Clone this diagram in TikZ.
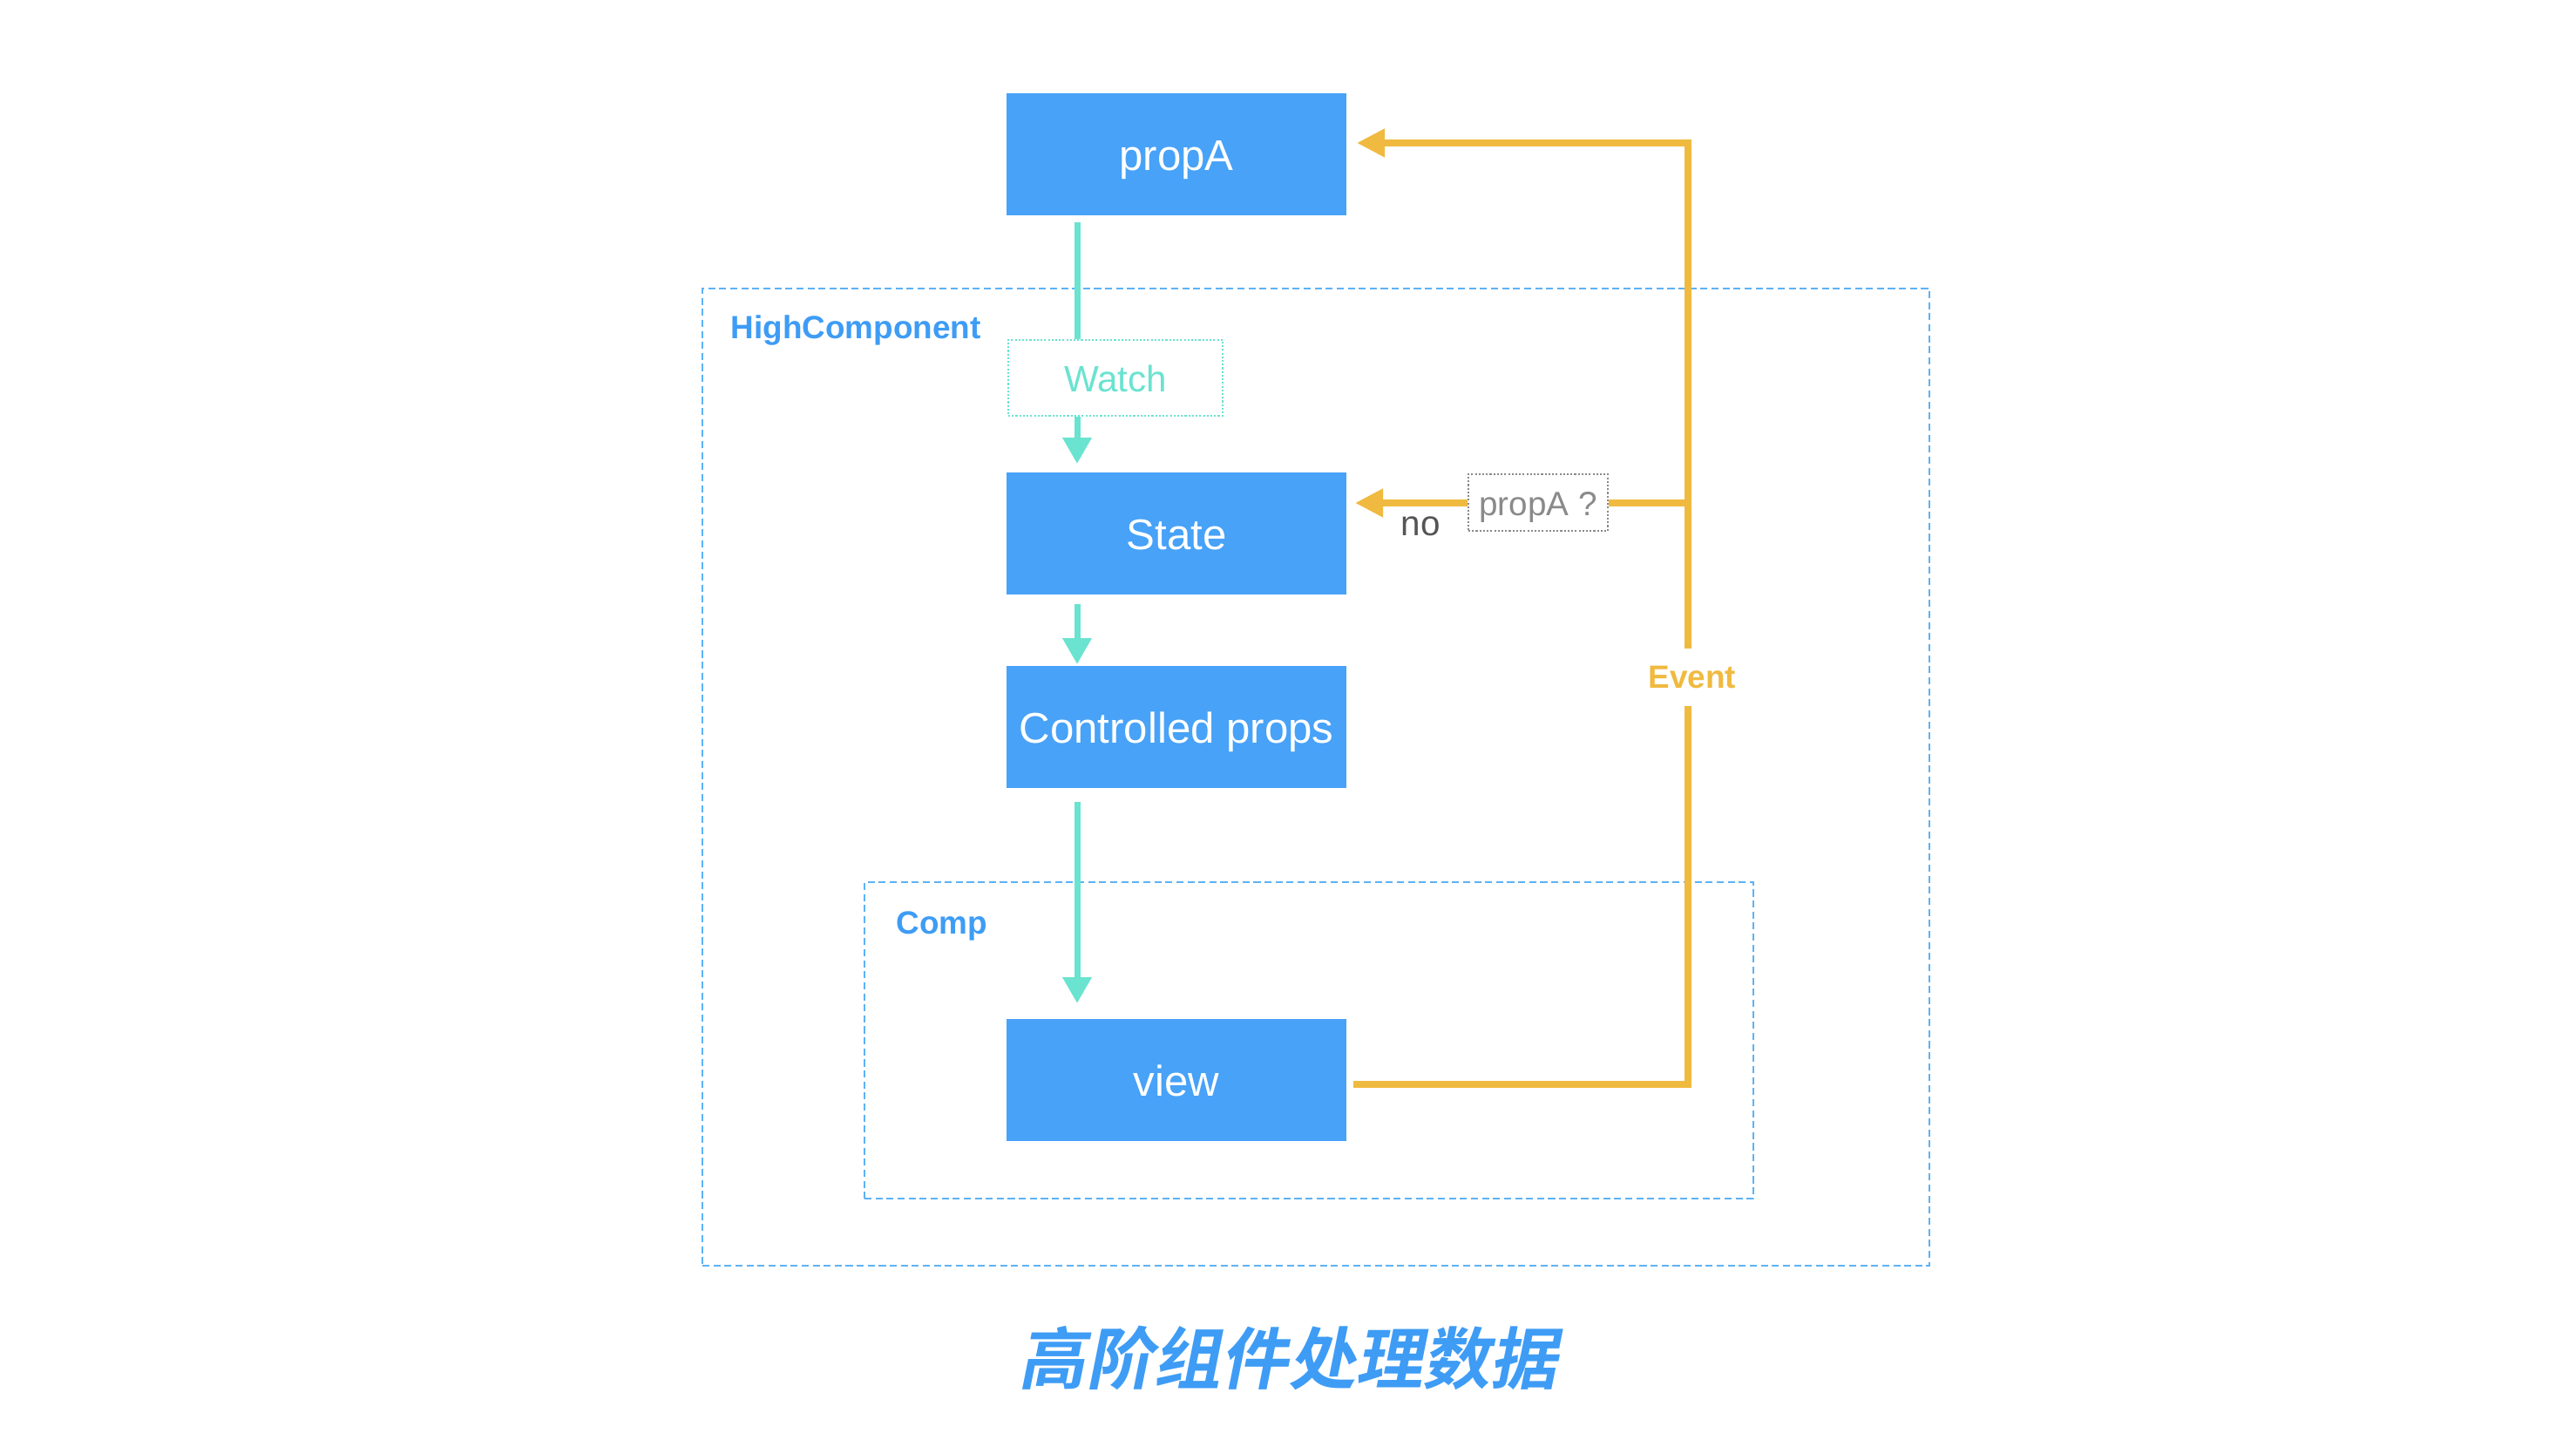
\documentclass[tikz,border=0pt]{standalone}
\usepackage{xcolor}
\usepackage{fontspec}
\setmainfont{Liberation Sans}
\newfontfamily\cjk[FakeSlant=0.2]{Noto Sans CJK SC Bold}
\usetikzlibrary{positioning,arrows.meta,calc}
\definecolor{boxblue}{HTML}{47A2F8}
\definecolor{frameblue}{HTML}{5DB2F5}
\definecolor{labelblue}{HTML}{3E9CF5}
\definecolor{watchgreen}{HTML}{6AE3D0}
\definecolor{eventorange}{HTML}{F0BA40}
\definecolor{askgray}{HTML}{8A8A8A}
\definecolor{nogray}{HTML}{555555}

\begin{document}
\begin{tikzpicture}[-,node distance=1cm,
                    main node/.style={rectangle,fill=boxblue,text=white,minimum width=3.9cm,minimum height=1.4cm,inner sep=0pt,outer sep=0pt,text height=11pt,text depth=0.4pt,font=\fontsize{14}{16}\selectfont},
                    frame node/.style={draw=frameblue,line width=0.8pt,dash pattern=on 2.3pt off 1.3pt,rectangle,inner sep=0pt,outer sep=0pt},
                    frame label/.style={anchor=west,inner sep=0pt,text=labelblue,font=\bfseries\fontsize{10.5}{12}\selectfont},
                    green line/.style={draw=watchgreen,line width=0.07cm},
                    orange line/.style={draw=eventorange,line width=0.075cm},
                    green tip/.style={-{Triangle[width=0.32cm,length=0.3cm]}},
                    orange tip/.style={-{Triangle[width=0.31cm,length=0.32cm]}}]
\useasboundingbox (0,0) rectangle (29.56,-16.60);
%frames
  \node (Box1) [frame node,minimum width=14.08cm,minimum height=11.21cm] at (15.10,-8.915) {};
  \node (Box2) [frame node,minimum width=10.20cm,minimum height=3.63cm] at (15.02,-11.935) {};
  \node [frame label] at (8.38,-3.79) {HighComponent};
  \node [frame label] at (10.28,-10.62) {Comp};
%boxes
  \node[main node] (propA) at (13.50,-1.77) {propA};
  \node[main node] (state) [below=2.95cm of propA] {State};
  \node[main node] (ctrl) [below=0.82cm of state] {Controlled props};
  \node[main node] (view) [below=2.65cm of ctrl] {view};
  \node (watch) [draw=watchgreen,line width=0.6pt,dash pattern=on 0.6pt off 0.6pt,minimum width=2.46cm,minimum height=0.87cm,inner sep=0pt,text height=9.4pt,text depth=0.3pt,text=watchgreen,font=\fontsize{12}{14}\selectfont] at (12.80,-4.335) {Watch};
  \node (ask) [draw=askgray,line width=0.7pt,dash pattern=on 0.6pt off 0.6pt,minimum width=1.6cm,minimum height=0.65cm,inner sep=0pt,text height=8.6pt,text depth=0.3pt,text=askgray,font=\fontsize{11}{13}\selectfont] at (17.65,-5.765) {propA ?};
  \node (no) [text=nogray,inner sep=0pt,font=\fontsize{11.5}{13}\selectfont] at (16.30,-6.04) {no};
  \node (event) [text=eventorange,inner sep=0pt,minimum height=0.64cm,font=\bfseries\fontsize{10.5}{12}\selectfont] at (19.42,-7.77) {Event};
%green flow
  \draw[green line] ([shift={(-1.14,-0.08)}]propA.south) coordinate (g1) -- (g1 |- watch.north);
  \draw[green line,green tip] (g1 |- watch.south) -- ([yshift=0.1cm]g1 |- state.north);
  \draw[green line,green tip] ([yshift=-0.11cm]g1 |- state.south) -- ([yshift=0.02cm]g1 |- ctrl.north);
  \draw[green line,green tip] ([yshift=-0.16cm]g1 |- ctrl.south) -- ([yshift=0.18cm]g1 |- view.north);
%orange flow
  \coordinate (c1) at (19.37,-1.64);
  \coordinate (c2) at (19.37,-12.44);
  \coordinate (c3) at (19.37,-5.77);
  \draw[orange line] ([xshift=0.08cm]view.east |- c2) -- (c2) -- (c2 |- event.south);
  \draw[orange line,orange tip] (c1 |- event.north) -- (c1) -- ([xshift=0.12cm]propA.east |- c1);
  \draw[orange line] (c3) -- (c3 -| ask.east);
  \draw[orange line,orange tip] (c3 -| ask.west) -- ([xshift=0.1cm]state.east |- c3);
%caption
  \node (title) at (14.78,-15.58) {\cjk\fontsize{22}{26}\selectfont\color{labelblue}高阶组件处理数据};
\end{tikzpicture}
\end{document}
